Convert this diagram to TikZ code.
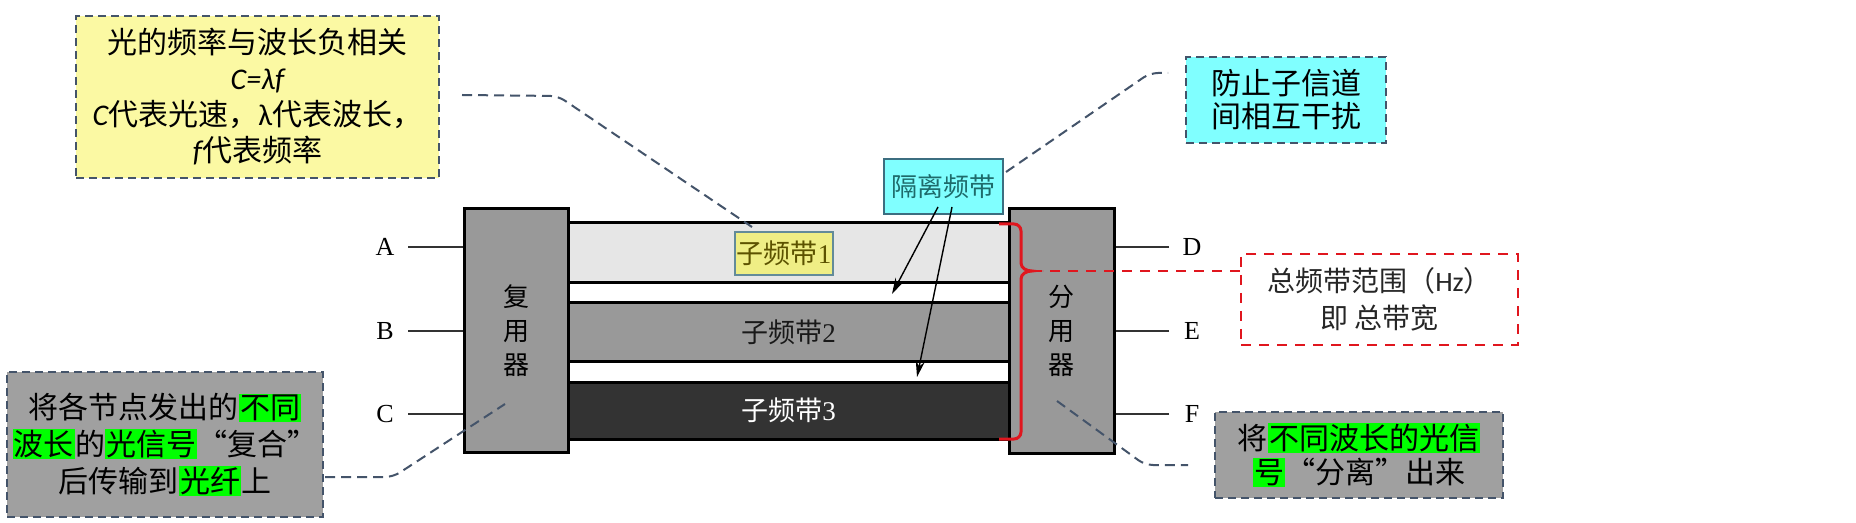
\documentclass[tikz,border=0pt]{standalone}
\usepackage{fontspec}
\setmainfont{Liberation Serif}
\newfontfamily\cjk{Noto Sans CJK SC}
\newfontfamily\cali{Carlito}
\usetikzlibrary{arrows.meta}
\definecolor{ybg}{HTML}{FBF9A3}
\definecolor{cbg}{HTML}{80FFFF}
\definecolor{gbg}{HTML}{A0A0A0}
\definecolor{devc}{HTML}{999999}
\definecolor{bandA}{HTML}{E6E6E6}
\definecolor{bandB}{HTML}{999999}
\definecolor{bandC}{HTML}{333333}
\definecolor{sblc}{HTML}{EFEE85}
\definecolor{sbtc}{HTML}{5C5200}
\definecolor{dashc}{HTML}{44546A}
\definecolor{redc}{HTML}{E0161E}
\definecolor{hlgreen}{HTML}{00FF00}
\definecolor{tealtx}{HTML}{1E6B6B}
\definecolor{tealbd}{HTML}{3C6E80}
\newcommand\hlg[1]{{\setlength{\fboxsep}{0.6pt}\colorbox{hlgreen}{#1}}}
\begin{document}
\begin{tikzpicture}[x=0.5pt,y=-0.5pt,
  band/.style={draw=black,line width=1.5pt,minimum width=220.5pt,inner sep=0pt,
    font=\fontsize{13.5}{16}\selectfont},
  dev/.style={draw=black,line width=1.5pt,fill=devc,inner sep=0pt,align=center,
    font=\cjk\fontsize{13}{17}\selectfont},
  pin/.style={line width=1pt,draw=black!80},
  letter/.style={font=\fontsize{13}{15}\selectfont},
  callbox/.style={draw=dashc,line width=0.9pt,dash pattern=on 4pt off 2.5pt,inner sep=0pt,align=center},
  callout/.style={draw=dashc,line width=1pt,dash pattern=on 5pt off 3pt,rounded corners=4pt},
  reddash/.style={draw=redc,line width=1.3pt,dash pattern=on 5pt off 4pt},
  arr/.style={draw=black,line width=0.7pt,-{Stealth[length=8pt,width=4.5pt]}}]
\useasboundingbox[fill=white] (0,0) rectangle (1856,523);

% sub-bands
\node[band,fill=bandA,minimum height=30pt] (b1) at (788.5,253) {};
\node[band,fill=bandB,minimum height=29.5pt,text=black!90] (b2) at (788.5,332.5) {{\cjk 子频带}2};
\node[band,fill=bandC,minimum height=28.5pt,text=white] (b3) at (788.5,410.5) {{\cjk 子频带}3};
\node[draw=tealbd!80,line width=0.6pt,fill=sblc,minimum width=49pt,minimum height=21.5pt,inner sep=0pt,
  text=sbtc,font=\fontsize{13.5}{16}\selectfont] (sb1) at (784,253.5) {{\cjk 子频带}1};

% multiplexer / demultiplexer
\node[dev,minimum width=52pt,minimum height=121.5pt] (mux) at (516,330.5) {复\\用\\器};
\node[dev,minimum width=52.5pt,minimum height=122pt] (demux) at (1061.5,331) {分\\用\\器};

% inputs / outputs
\node[letter] (A) at (385,247) {A};
\node[letter] (B) at (385,331) {B};
\node[letter] (C) at (385,414) {C};
\node[letter] (D) at (1192,247) {D};
\node[letter] (E) at (1192,331) {E};
\node[letter] (F) at (1192,414) {F};
\coordinate (pa) at (408,247);
\coordinate (pb) at (408,331);
\coordinate (pc) at (408,414);
\coordinate (pd) at (1169,247);
\coordinate (pe) at (1169,331);
\coordinate (pf) at (1169,414);
\draw[pin] (pa) -- (pa -| mux.west);
\draw[pin] (pb) -- (pb -| mux.west);
\draw[pin] (pc) -- (pc -| mux.west);
\draw[pin] (pd) -- (pd -| demux.east);
\draw[pin] (pe) -- (pe -| demux.east);
\draw[pin] (pf) -- (pf -| demux.east);

% red brace
\coordinate (tip) at (1032,271);
\draw[redc,line width=1.5pt] (999,224) -- (1014,224) to[out=0,in=90] (1021,231) -- (1021,263)
  to[out=-90,in=180] (tip) to[out=180,in=90] (1021,279) -- (1021,432)
  to[out=-90,in=0] (1014,439) -- (999,439);

% total bandwidth box
\node[draw=redc,line width=1.3pt,dash pattern=on 5pt off 4pt,minimum width=138.5pt,minimum height=45.5pt,
  inner sep=0pt,align=center,text=black!85,font=\cjk\fontsize{14}{18.5}\selectfont] (rb) at (1379.5,299.5)
  {总频带范围（{\cali Hz}）\\即 总带宽};
\draw[reddash] (tip) -- (tip -| rb.west);

% guard bands
\node[draw=tealbd,line width=0.6pt,fill=cbg,minimum width=59.5pt,minimum height=27.5pt,inner sep=0pt,
  text=tealtx,font=\cjk\fontsize{13}{15}\selectfont] (gl) at (943.5,186.5) {隔离频带};
\coordinate (g1) at (938,207);
\coordinate (g2) at (952,207);
\coordinate (e1) at (892,294);
\coordinate (e2) at (917,377);
\draw[arr] (g1) -- (e1);
\draw[arr] (g2) -- (e2);

% callouts
\node[callbox,fill=ybg,minimum width=181.5pt,minimum height=81pt,font=\cjk\fontsize{15}{18}\selectfont] (yb) at (257.5,97)
  {光的频率与波长负相关\\{\cali\itshape C=λf}\\{\cali\itshape C}代表光速，{\cali λ}代表波长，\\{\cali\itshape f}代表频率};
\node[callbox,fill=cbg,minimum width=100pt,minimum height=43pt,font=\cjk\fontsize{15}{16.5}\selectfont] (cb) at (1286,100)
  {防止子信道\\间相互干扰};
\node[callbox,fill=gbg,minimum width=158pt,minimum height=72.5pt,font=\cjk\fontsize{15}{18.5}\selectfont] (gL) at (165,444.5)
  {将各节点发出的\hlg{不同}\\\hlg{波长}的\hlg{光信号}“复合”\\后传输到\hlg{光纤}上};
\node[callbox,fill=gbg,minimum width=144pt,minimum height=43pt,font=\cjk\fontsize{15}{17}\selectfont] (gR) at (1359,455)
  {将\hlg{不同波长的光信}\\\hlg{号}“分离”出来};

\coordinate (y1) at (462,95);
\coordinate (y2) at (558,96);
\coordinate (y3) at (752,227);
\draw[callout] (y1) -- (y2) -- (y3);
\coordinate (c1) at (1006,172);
\coordinate (c2) at (1150,73);
\coordinate (c3) at (1168,73);
\draw[callout] (c1) -- (c2) -- (c3);
\coordinate (l1) at (325,477);
\coordinate (l2) at (393,477);
\coordinate (l3) at (505,404);
\draw[callout] (l1) -- (l2) -- (l3);
\coordinate (r1) at (1057,401);
\coordinate (r2) at (1145,465);
\coordinate (r3) at (1188,465);
\draw[callout] (r1) -- (r2) -- (r3);
\end{tikzpicture}
\end{document}
